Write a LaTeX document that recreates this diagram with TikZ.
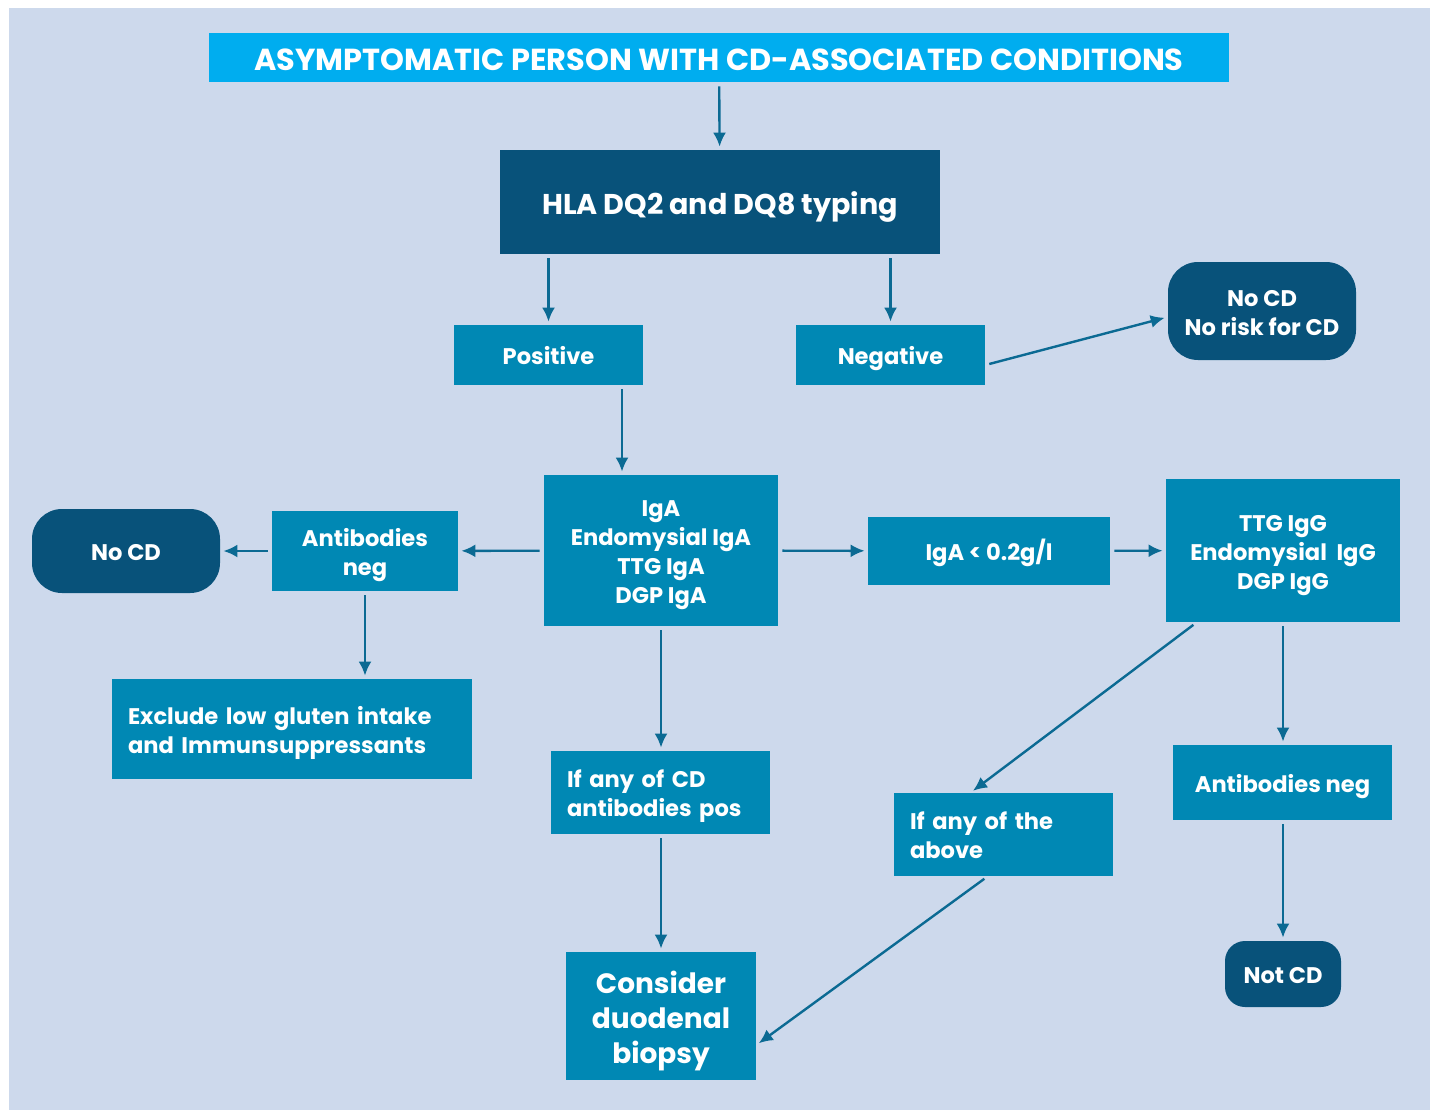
\documentclass[tikz,border=0pt]{standalone}
\usepackage{fontspec}
\setmainfont{Poppins}
\usetikzlibrary{arrows.meta,calc}

\definecolor{panelbg}{HTML}{CDD9EC}
\definecolor{titlecol}{HTML}{00ADEF}
\definecolor{darkcol}{HTML}{08527A}
\definecolor{midcol}{HTML}{0088B4}
\definecolor{arrcol}{HTML}{0B6A93}

\tikzset{
	midbox/.style={fill=midcol, text=white, font=\bfseries\fontsize{11.3}{14.5}\selectfont, align=center, inner sep=0pt,
		execute at begin node={\rule{0pt}{1.15em}}, execute at end node={\rule[-0.29em]{0pt}{0.29em}}},
	nrows/.style={execute at begin node={\rule{0pt}{\dimexpr#1\baselineskip-\baselineskip+1.15em\relax}}},
	darkbox/.style={midbox, fill=darkcol},
	endbox/.style={darkbox, rounded corners=15pt},
	flow/.style={draw=arrcol, line width=1.2pt, -{Latex[length=7pt,width=6.5pt]}, shorten <=2pt, shorten >=1.5pt}
}

\begin{document}
\begin{tikzpicture}[x=0.5pt, y=-0.5pt]
		%%%%% START %%%%%
		
		\useasboundingbox (0, 0) rectangle (1430, 1110);
		\fill[white] (0, 0) rectangle (1430, 1110);
		\fill[panelbg] (9, 8) rectangle (1430, 1110);
		
		\node[midbox, fill=titlecol, font=\bfseries\fontsize{15.2}{18}\selectfont, minimum width=510pt, minimum height=24.5pt] (title) at (719, 57.5) {ASYMPTOMATIC PERSON WITH CD-ASSOCIATED CONDITIONS};
		\node[darkbox, font=\bfseries\fontsize{14.3}{17}\selectfont, minimum width=220pt, minimum height=52pt] (hla) at (720, 202) {HLA DQ2 and DQ8 typing};
		
		\node[midbox, minimum width=94.5pt, minimum height=30pt] (pos) at (548.5, 355) {Positive};
		\node[midbox, minimum width=94.5pt, minimum height=30pt] (neg) at (890.5, 355) {Negative};
		\node[endbox, nrows=2, minimum width=94pt, minimum height=49pt] (norisk) at (1262, 311) {No CD\\No risk for CD};
		
		\node[midbox, nrows=4, minimum width=117pt, minimum height=75.5pt] (iga) at (661, 550.5) {IgA\\Endomysial IgA\\TTG IgA\\DGP IgA};
		\node[midbox, nrows=2, minimum width=93pt, minimum height=40pt] (abneg) at (365, 551) {Antibodies\\neg};
		\node[endbox, minimum width=94pt, minimum height=42pt] (nocd) at (126, 551) {No CD};
		\node[midbox, align=left, text width=164pt, inner xsep=8pt, minimum height=50pt] (excl) at (292, 729) {Exclude low gluten intake\\and Immunsuppressants};
		
		\node[midbox, minimum width=121pt, minimum height=34pt] (igalow) at (989, 551) {IgA < 0.2g/l};
		\node[midbox, nrows=3, minimum width=117pt, minimum height=71.5pt] (ttg) at (1283, 550.5) {TTG IgG\\Endomysial~~IgG\\DGP IgG};
		
		\node[midbox, align=left, text width=93.5pt, inner xsep=8pt, minimum height=41.5pt] (ifcd) at (660.5, 792.5) {If any of CD\\antibodies pos};
		\node[midbox, nrows=3, font=\bfseries\fontsize{14}{17.5}\selectfont, minimum width=95pt, minimum height=64pt] (biopsy) at (661, 1016) {Consider\\duodenal\\biopsy};
		\node[midbox, align=left, text width=93.5pt, inner xsep=8pt, minimum height=41.5pt] (ifabove) at (1003.5, 834.5) {If any of the\\above};
		\node[midbox, minimum width=109.5pt, minimum height=37.5pt] (abneg2) at (1282.5, 782.5) {Antibodies neg};
		\node[endbox, rounded corners=10pt, minimum width=58pt, minimum height=33pt] (notcd) at (1283, 974) {Not CD};
		
		\coordinate (posout) at ([xshift=36.75pt]pos.south);
		
		\draw[flow] (title) -- (hla);
		\draw[flow] (hla.south -| pos) -- (pos);
		\draw[flow] (hla.south -| neg) -- (neg);
		\draw[flow] ([yshift=-5pt]neg.east) -- ([yshift=-3pt]norisk.west);
		\draw[flow] (posout) -- (posout |- iga.north);
		\draw[flow] (iga) -- (abneg);
		\draw[flow] (abneg) -- (nocd);
		\draw[flow] (abneg) -- (abneg |- excl.north);
		\draw[flow] (iga) -- (igalow);
		\draw[flow] (igalow) -- (ttg);
		\draw[flow] (iga) -- (iga |- ifcd.north);
		\draw[flow] (iga |- ifcd.south) -- (iga |- biopsy.north);
		\draw[flow] ([xshift=15.5pt]ttg.south west) -- ([xshift=38.5pt]ifabove.north west);
		\draw[flow] ([xshift=47pt]ifabove.south west) -- ([yshift=-14.5pt]biopsy.east);
		\draw[flow] (ttg) -- (ttg |- abneg2.north);
		\draw[flow] (ttg |- abneg2.south) -- (notcd);
		
		%%%%% END %%%%%
	\end{tikzpicture}
\end{document}
